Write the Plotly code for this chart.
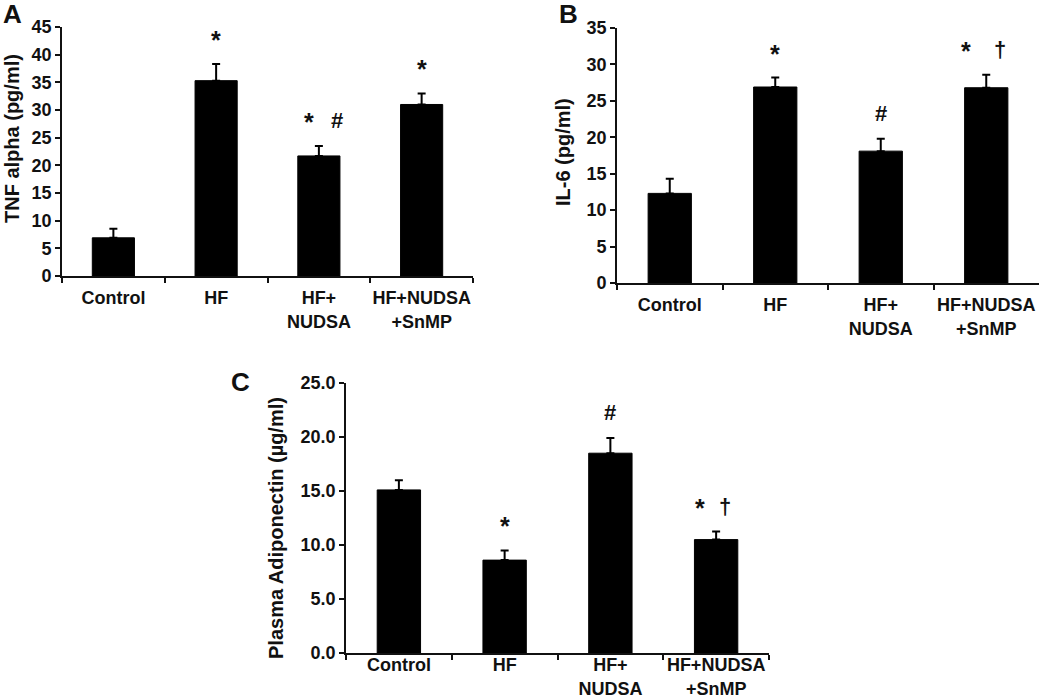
import plotly.graph_objects as go

categories = ["Control", "HF", "HF+<br>NUDSA", "HF+NUDSA<br>+SnMP"]

tnf_mean = [6.9, 35.3, 21.7, 31.0]
tnf_err = [1.65, 3.0, 1.8, 2.0]
tnf_marks = [[], ["*"], ["*", "#"], ["*"]]

il6_mean = [12.3, 26.9, 18.1, 26.8]
il6_err = [2.0, 1.3, 1.7, 1.8]
il6_marks = [[], ["*"], ["#"], ["*", "\u2020"]]

adipo_mean = [15.1, 8.6, 18.5, 10.5]
adipo_err = [0.9, 0.9, 1.4, 0.75]
adipo_marks = [[], ["*"], ["#"], ["*", "\u2020"]]

W, H = 1050, 699
FONT = "Liberation Sans, Arial, sans-serif"
INK = "#111111"

panels = [
    dict(m=tnf_mean, e=tnf_err, k=tnf_marks, ymax=45, dt=5, fmt="d",
         title="TNF alpha (pg/ml)", letter="A", standoff=5,
         box=(62, 473, 27, 276), tpos=(12, 139), lpos=(12, 0), pair=(-10, 18)),
    dict(m=il6_mean, e=il6_err, k=il6_marks, ymax=35, dt=5, fmt="d",
         title="IL-6 (pg/ml)", letter="B", standoff=5,
         box=(617, 1039, 28, 283), tpos=(563, 152), lpos=(568, 0), pair=(-20, 14)),
    dict(m=adipo_mean, e=adipo_err, k=adipo_marks, ymax=25, dt=5, fmt=".1f",
         title="Plasma Adiponectin (\u00b5g/ml)", letter="C", standoff=-5,
         box=(346, 769, 383, 653), tpos=(276, 528), lpos=(240, 368), pair=(-16, 9)),
]

fig = go.Figure()
annotations = []
for i, p in enumerate(panels, start=1):
    xa = "x" if i == 1 else f"x{i}"
    ya = "y" if i == 1 else f"y{i}"
    fig.add_trace(go.Bar(
        x=categories, y=p["m"], xaxis=xa, yaxis=ya, width=0.41,
        marker=dict(color="#000000", line=dict(color="#000000", width=1)),
        error_y=dict(type="data", array=p["e"], arrayminus=[0] * 4, symmetric=False,
                     color="#000000", thickness=2, width=4),
        showlegend=False, hoverinfo="skip",
    ))
    x0, x1, yt, yb = p["box"]
    axis_common = dict(showline=True, linecolor=INK, linewidth=1.6, ticks="outside",
                       tickcolor=INK, tickwidth=1.6, ticklen=5, showgrid=False,
                       zeroline=False, fixedrange=True, automargin=False, tickangle=0,
                       tickfont=dict(family=FONT, size=18, color=INK, weight="bold"))
    fig.update_layout(**{
        ("xaxis" if i == 1 else f"xaxis{i}"): dict(
            domain=[x0 / W, x1 / W], anchor=ya, type="category",
            range=[-0.5, 3.5], tickson="boundaries",
            ticklabelstandoff=p["standoff"], **axis_common),
        ("yaxis" if i == 1 else f"yaxis{i}"): dict(
            domain=[1 - yb / H, 1 - yt / H], anchor=xa,
            range=[0, p["ymax"]], dtick=p["dt"], tickformat=p["fmt"], **axis_common),
    })
    for c, m, e, syms in zip(categories, p["m"], p["e"], p["k"]):
        shifts = [0] if len(syms) == 1 else list(p["pair"])
        for s, dx in zip(syms, shifts):
            star = s == "*"
            annotations.append(dict(
                x=c, y=m + e, xref=xa, yref=ya, text=s, showarrow=False,
                yanchor="bottom", yshift=8 if star else 11, xshift=dx,
                font=dict(family=FONT, size=25 if star else 22, color=INK, weight="bold")))
    tx, ty = p["tpos"]
    annotations.append(dict(
        x=tx / W, y=1 - ty / H, xref="paper", yref="paper", text=p["title"],
        textangle=-90, showarrow=False, xanchor="center", yanchor="middle",
        font=dict(family=FONT, size=20, color=INK, weight="bold")))
    lx, ly = p["lpos"]
    annotations.append(dict(
        x=lx / W, y=1 - ly / H, xref="paper", yref="paper", text=p["letter"],
        showarrow=False, xanchor="center", yanchor="top", yshift=3,
        font=dict(family=FONT, size=26, color=INK, weight="bold")))

fig.update_layout(
    template="none",
    width=W, height=H, margin=dict(l=0, r=0, t=0, b=0, autoexpand=False),
    paper_bgcolor="white", plot_bgcolor="white",
    annotations=annotations,
)

fig.write_html("out.html", config={"displayModeBar": False},
               post_script="document.body.style.margin='0';")
